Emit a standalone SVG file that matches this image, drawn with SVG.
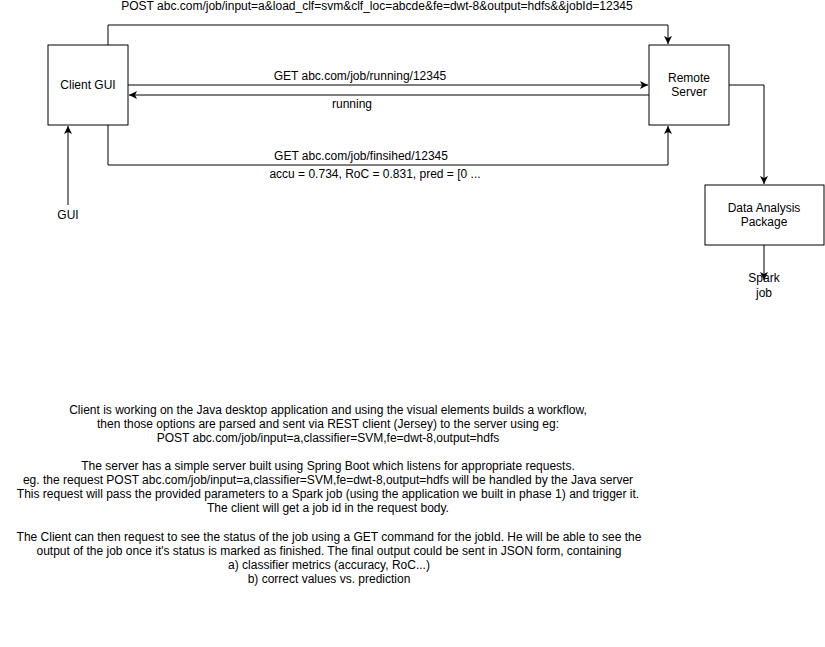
<svg xmlns="http://www.w3.org/2000/svg" width="825" height="647" viewBox="0 0 825 647">
<style>
.box{fill:#fff;stroke:#000;stroke-width:1}
.ln{fill:none;stroke:#000;stroke-width:1}
text{font-family:"Liberation Sans",Arial,sans-serif;font-size:12px;fill:#000}
.c{text-anchor:middle}
</style>
<defs>
<marker id="ah" markerWidth="10" markerHeight="10" refX="8" refY="4" orient="auto" markerUnits="userSpaceOnUse">
<path d="M0,0 L8,4 L0,8 L2,4 Z" fill="#000"/>
</marker>
</defs>
<rect width="825" height="647" fill="#fff"/>
<g id="connectors">
<path class="ln" d="M108,45 V25 H668 V44" marker-end="url(#ah)"/>
<path class="ln" d="M128,85 H648" marker-end="url(#ah)"/>
<path class="ln" d="M649,95 H129" marker-end="url(#ah)"/>
<path class="ln" d="M108,125 V165 H668 V126" marker-end="url(#ah)"/>
<path class="ln" d="M68,205 V126" marker-end="url(#ah)"/>
<path class="ln" d="M729,85 H764 V184" marker-end="url(#ah)"/>
<path class="ln" d="M764,245 V280" marker-end="url(#ah)"/>
<text class="c" x="377" y="10">POST abc.com/job/input=a&amp;load_clf=svm&amp;clf_loc=abcde&amp;fe=dwt-8&amp;output=hdfs&amp;&amp;jobId=12345</text>
<text class="c" x="360" y="80">GET abc.com/job/running/12345</text>
<text class="c" x="352" y="108">running</text>
<text class="c" x="361" y="160">GET abc.com/job/finsihed/12345</text>
<text class="c" x="375" y="178">accu = 0.734, RoC = 0.831, pred = [0 ...</text>
</g>
<g id="client">
<rect class="box" x="48" y="45" width="80" height="80"/>
<text class="c" x="88" y="89">Client GUI</text>
</g>
<g id="server">
<rect class="box" x="649" y="45" width="80" height="80"/>
<text class="c" x="689" y="82">Remote</text>
<text class="c" x="689" y="96">Server</text>
</g>
<g id="dap">
<rect class="box" x="705" y="185" width="119" height="60"/>
<text class="c" x="764" y="212">Data Analysis</text>
<text class="c" x="764" y="226">Package</text>
</g>
<g id="spark">
<text class="c" x="764" y="282">Spark</text>
<text class="c" x="764" y="297">job</text>
</g>
<g id="gui">
<text class="c" x="68" y="219">GUI</text>
</g>
<g id="notes">
<text class="c" x="328" y="414">Client is working on the Java desktop application and using the visual elements builds a workflow,</text>
<text class="c" x="328" y="428">then those options are parsed and sent via REST client (Jersey) to the server using eg:</text>
<text class="c" x="328" y="442">POST abc.com/job/input=a,classifier=SVM,fe=dwt-8,output=hdfs</text>
<text class="c" x="328" y="470">The server has a simple server built using Spring Boot which listens for appropriate requests.</text>
<text class="c" x="328" y="484">eg. the request POST abc.com/job/input=a,classifier=SVM,fe=dwt-8,output=hdfs will be handled by the Java server</text>
<text class="c" x="328" y="498">This request will pass the provided parameters to a Spark job (using the application we built in phase 1) and trigger it.</text>
<text class="c" x="328" y="512">The client will get a job id in the request body.</text>
<text class="c" x="329" y="541">The Client can then request to see the status of the job using a GET command for the jobId. He will be able to see the</text>
<text class="c" x="329" y="555">output of the job once it's status is marked as finished. The final output could be sent in JSON form, containing</text>
<text class="c" x="329" y="569">a) classifier metrics (accuracy, RoC...)</text>
<text class="c" x="329" y="583">b) correct values vs. prediction</text>
</g>
</svg>
